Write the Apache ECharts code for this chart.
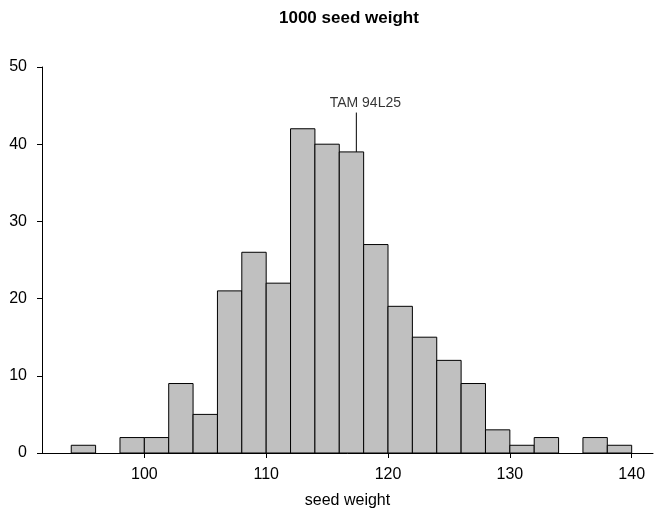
<!DOCTYPE html>
<html>
<head>
<meta charset="utf-8">
<script type="text/javascript" src="https://cdn.jsdelivr.net/npm/echarts@6/dist/echarts.min.js"></script>
<style>
  html, body { margin: 0; padding: 0; background: #fff; }
  #container { width: 654px; height: 514px; }
</style>
</head>
<body>
<div id="container"></div>
<script type="text/javascript">
    // histogram bins (lower edge), width 2
    var binStarts = [94, 96, 98, 100, 102, 104, 106, 108, 110, 112, 114, 116, 118, 120, 122, 124, 126, 128, 130, 132, 134, 136, 138];
    var binWidth = 2;
    var counts = [1, 0, 2, 2, 9, 5, 21, 26, 22, 42, 40, 39, 27, 19, 15, 12, 9, 3, 1, 2, 0, 2, 1];
    var xTicks = [100, 110, 120, 130, 140];
    // marked line
    var tamName = 'TAM 94L25';
    var tamX = 117.4;
    var tamY = [39, 44.1];

    var font = "'Liberation Sans', Arial, sans-serif";

    var histData = [];
    for (var i = 0; i < binStarts.length; i++) {
        histData.push([binStarts[i], binStarts[i] + binWidth, counts[i]]);
    }

    var myChart = echarts.init(document.getElementById('container'));
    var option = {
        animation: false,
        backgroundColor: '#fff',
        title: {
            text: '1000 seed weight',
            left: 274,
            top: 5,
            textStyle: { fontFamily: font, fontSize: 17, fontWeight: 'bold', color: '#000' }
        },
        grid: { left: 42, right: 1, top: 67, bottom: 60 },
        xAxis: {
            type: 'value',
            min: 91.6,
            max: 141.75,
            name: 'seed weight',
            nameLocation: 'middle',
            nameGap: 40,
            nameTextStyle: { fontFamily: font, fontSize: 16, color: '#000' },
            axisLine: { show: true, onZero: false, lineStyle: { color: '#000', width: 1 } },
            axisTick: { show: true, length: 5, customValues: xTicks, lineStyle: { color: '#000' } },
            axisLabel: { customValues: xTicks, margin: 14, fontFamily: font, fontSize: 16, color: '#000' },
            splitLine: { show: false }
        },
        yAxis: {
            type: 'value',
            min: 0,
            max: 50,
            interval: 10,
            axisLine: { show: true, lineStyle: { color: '#000', width: 1 } },
            axisTick: { show: true, length: 5, lineStyle: { color: '#000' } },
            axisLabel: { margin: 15, fontFamily: font, fontSize: 16, color: '#000' },
            splitLine: { show: false }
        },
        series: [
            {
                type: 'custom',
                data: histData,
                renderItem: function (params, api) {
                    var c = api.value(2);
                    if (!c) return;
                    var p0 = api.coord([api.value(0), c]);
                    var p1 = api.coord([api.value(1), 0]);
                    return {
                        type: 'rect',
                        shape: { x: p0[0], y: p0[1], width: p1[0] - p0[0], height: p1[1] - p0[1] },
                        style: { fill: '#c0c0c0', stroke: '#000', lineWidth: 1 }
                    };
                }
            },
            {
                type: 'line',
                data: [[tamX, tamY[0]], [tamX, tamY[1]]],
                symbol: 'none',
                lineStyle: { color: '#000', width: 1 },
                silent: true
            },
            {
                type: 'scatter',
                data: [[tamX, tamY[1]]],
                symbolSize: 0,
                label: {
                    show: true,
                    position: 'top',
                    distance: 2,
                    offset: [9, 0],
                    formatter: tamName,
                    fontFamily: font,
                    fontSize: 14,
                    color: '#000'
                },
                silent: true
            }
        ]
    };
    myChart.setOption(option);
</script>
</body>
</html>
